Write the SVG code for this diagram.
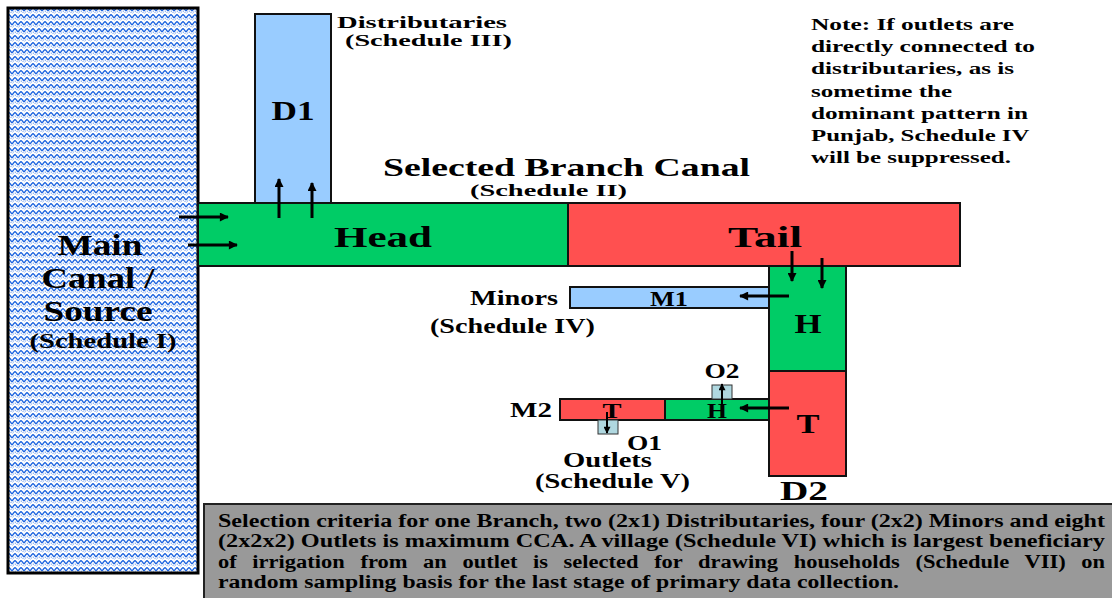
<svg xmlns="http://www.w3.org/2000/svg" width="1112" height="598" viewBox="0 0 1112 598">
<style>
text{font-family:"Liberation Serif","Times New Roman",Times,serif;font-weight:bold;fill:#000}
.box{stroke:#111;stroke-width:2}
.green{fill:#00cc66}.red{fill:#ff5050}.lblue{fill:#99ccff}.outlet{fill:#b0d8e0}
.arr{stroke:#000;stroke-width:3;fill:none}
.sarr{stroke:#000;stroke-width:2;fill:none}
</style>
<defs>
<pattern id="zig" x="0" y="0" width="6" height="7" patternUnits="userSpaceOnUse">
<rect width="6" height="7" fill="#fff"/>
<polyline points="0,4 1.5,2 3,0.5 4.5,2 6,4" fill="none" stroke="#1f66e0" stroke-width="1.3"/>
<polyline points="0,6.5 1.5,5 3,3.8 4.5,5 6,6.5" fill="none" stroke="#1f66e0" stroke-width="0.9" stroke-dasharray="1,1"/>
</pattern>
<marker id="ah" viewBox="0 0 10 10" refX="9" refY="5" markerWidth="11" markerHeight="9" markerUnits="userSpaceOnUse" orient="auto">
<path d="M0,0 L10,5 L0,10 z" fill="#000"/>
</marker>
<marker id="ahs" viewBox="0 0 10 10" refX="9" refY="5" markerWidth="8" markerHeight="7" markerUnits="userSpaceOnUse" orient="auto">
<path d="M0,0 L10,5 L0,10 z" fill="#000"/>
</marker>
</defs>

<g id="main-canal">
<rect x="8" y="8" width="190" height="565" fill="url(#zig)" stroke="#000" stroke-width="3"/>
<text x="100" y="255" font-size="30" text-anchor="middle" textLength="85" lengthAdjust="spacingAndGlyphs">Main</text>
<text x="98" y="288" font-size="30" text-anchor="middle" textLength="113" lengthAdjust="spacingAndGlyphs">Canal /</text>
<text x="98" y="321" font-size="30" text-anchor="middle" textLength="109" lengthAdjust="spacingAndGlyphs">Source</text>
<text x="103" y="348" font-size="20" text-anchor="middle" textLength="147" lengthAdjust="spacingAndGlyphs">(Schedule I)</text>
</g>

<g id="d1">
<rect x="255" y="14" width="76" height="189" class="lblue box"/>
<text x="293" y="120" font-size="27" text-anchor="middle" textLength="43" lengthAdjust="spacingAndGlyphs">D1</text>
<text x="337" y="28" font-size="17" textLength="170" lengthAdjust="spacingAndGlyphs">Distributaries</text>
<text x="345" y="46" font-size="17" textLength="167" lengthAdjust="spacingAndGlyphs">(Schedule III)</text>
</g>

<g id="branch-title">
<text x="383" y="176" font-size="26" textLength="367" lengthAdjust="spacingAndGlyphs">Selected Branch Canal</text>
<text x="470" y="196" font-size="17" textLength="157" lengthAdjust="spacingAndGlyphs">(Schedule II)</text>
</g>

<g id="head">
<rect x="198" y="203" width="370" height="63" class="green box"/>
<text x="334" y="247" font-size="30" textLength="98" lengthAdjust="spacingAndGlyphs">Head</text>
</g>

<g id="tail">
<rect x="568" y="203" width="392" height="63" class="red box"/>
<text x="728" y="247" font-size="30" textLength="74" lengthAdjust="spacingAndGlyphs">Tail</text>
</g>

<g id="d2">
<rect x="769" y="266" width="77" height="105" class="green box"/>
<rect x="769" y="371" width="77" height="105" class="red box"/>
<text x="808" y="333" font-size="28" text-anchor="middle" textLength="27" lengthAdjust="spacingAndGlyphs">H</text>
<text x="808" y="433" font-size="28" text-anchor="middle" textLength="23" lengthAdjust="spacingAndGlyphs">T</text>
<text x="804" y="500" font-size="27" text-anchor="middle" textLength="48" lengthAdjust="spacingAndGlyphs">D2</text>
</g>

<g id="m1">
<rect x="570" y="287" width="199" height="21" class="lblue box"/>
<text x="669" y="306" font-size="20" text-anchor="middle" textLength="38" lengthAdjust="spacingAndGlyphs">M1</text>
<text x="470" y="305" font-size="21" textLength="88" lengthAdjust="spacingAndGlyphs">Minors</text>
<text x="430" y="333" font-size="21" textLength="165" lengthAdjust="spacingAndGlyphs">(Schedule IV)</text>
</g>

<g id="m2">
<rect x="560" y="399" width="105" height="21" class="red box"/>
<rect x="665" y="399" width="104" height="21" class="green box"/>
<text x="612" y="418" font-size="20" text-anchor="middle" textLength="19" lengthAdjust="spacingAndGlyphs">T</text>
<text x="717" y="418" font-size="20" text-anchor="middle" textLength="20" lengthAdjust="spacingAndGlyphs">H</text>
<text x="510" y="417" font-size="21" textLength="42" lengthAdjust="spacingAndGlyphs">M2</text>
</g>

<g id="o2">
<rect x="712" y="385" width="20" height="14" class="outlet" stroke="#333" stroke-width="1"/>
<text x="722" y="378" font-size="20" text-anchor="middle" textLength="35" lengthAdjust="spacingAndGlyphs">O2</text>
</g>

<g id="o1">
<rect x="598" y="420" width="20" height="14" class="outlet" stroke="#333" stroke-width="1"/>
<text x="627" y="450" font-size="20" textLength="35" lengthAdjust="spacingAndGlyphs">O1</text>
<text x="563" y="467" font-size="20" textLength="89" lengthAdjust="spacingAndGlyphs">Outlets</text>
<text x="535" y="488" font-size="20" textLength="155" lengthAdjust="spacingAndGlyphs">(Schedule V)</text>
</g>

<g id="connectors">
<line x1="179" y1="217" x2="228" y2="217" class="arr" marker-end="url(#ah)"/>
<line x1="188" y1="245" x2="237" y2="245" class="arr" marker-end="url(#ah)"/>
<line x1="279" y1="218" x2="279" y2="179" class="arr" marker-end="url(#ah)"/>
<line x1="312" y1="218" x2="312" y2="183" class="arr" marker-end="url(#ah)"/>
<line x1="792" y1="251" x2="792" y2="281" class="arr" marker-end="url(#ah)"/>
<line x1="822" y1="258" x2="822" y2="288" class="arr" marker-end="url(#ah)"/>
<line x1="789" y1="296" x2="740" y2="296" class="arr" marker-end="url(#ah)"/>
<line x1="789" y1="408" x2="740" y2="408" class="arr" marker-end="url(#ah)"/>
<line x1="722" y1="413" x2="722" y2="384" class="sarr" marker-end="url(#ahs)"/>
<line x1="607" y1="412" x2="607" y2="433" class="sarr" marker-end="url(#ahs)"/>
</g>

<g id="note">
<text font-size="16">
<tspan x="811" y="30" textLength="203" lengthAdjust="spacingAndGlyphs">Note: If outlets are</tspan>
<tspan x="811" y="52" textLength="224" lengthAdjust="spacingAndGlyphs">directly connected to</tspan>
<tspan x="811" y="74" textLength="203" lengthAdjust="spacingAndGlyphs">distributaries, as is</tspan>
<tspan x="811" y="97" textLength="141" lengthAdjust="spacingAndGlyphs">sometime the</tspan>
<tspan x="811" y="119" textLength="217" lengthAdjust="spacingAndGlyphs">dominant pattern in</tspan>
<tspan x="811" y="141" textLength="218" lengthAdjust="spacingAndGlyphs">Punjab, Schedule IV</tspan>
<tspan x="811" y="163" textLength="200" lengthAdjust="spacingAndGlyphs">will be suppressed.</tspan>
</text>
</g>

<g id="criteria">
<rect x="204" y="504" width="914" height="100" fill="#999999" stroke="#222" stroke-width="2"/>
<text font-size="18">
<tspan x="218" y="527" textLength="887" lengthAdjust="spacingAndGlyphs">Selection criteria for one Branch, two (2x1) Distributaries, four (2x2) Minors and eight</tspan>
<tspan x="218" y="547" textLength="887" lengthAdjust="spacingAndGlyphs">(2x2x2) Outlets is maximum CCA. A village (Schedule VI) which is largest beneficiary</tspan>
<tspan x="218" y="568" textLength="887" lengthAdjust="spacingAndGlyphs" word-spacing="8">of irrigation from an outlet is selected for drawing households (Schedule VII) on</tspan>
<tspan x="218" y="588" textLength="681" lengthAdjust="spacingAndGlyphs">random sampling basis for the last stage of primary data collection.</tspan>
</text>
</g>
</svg>
